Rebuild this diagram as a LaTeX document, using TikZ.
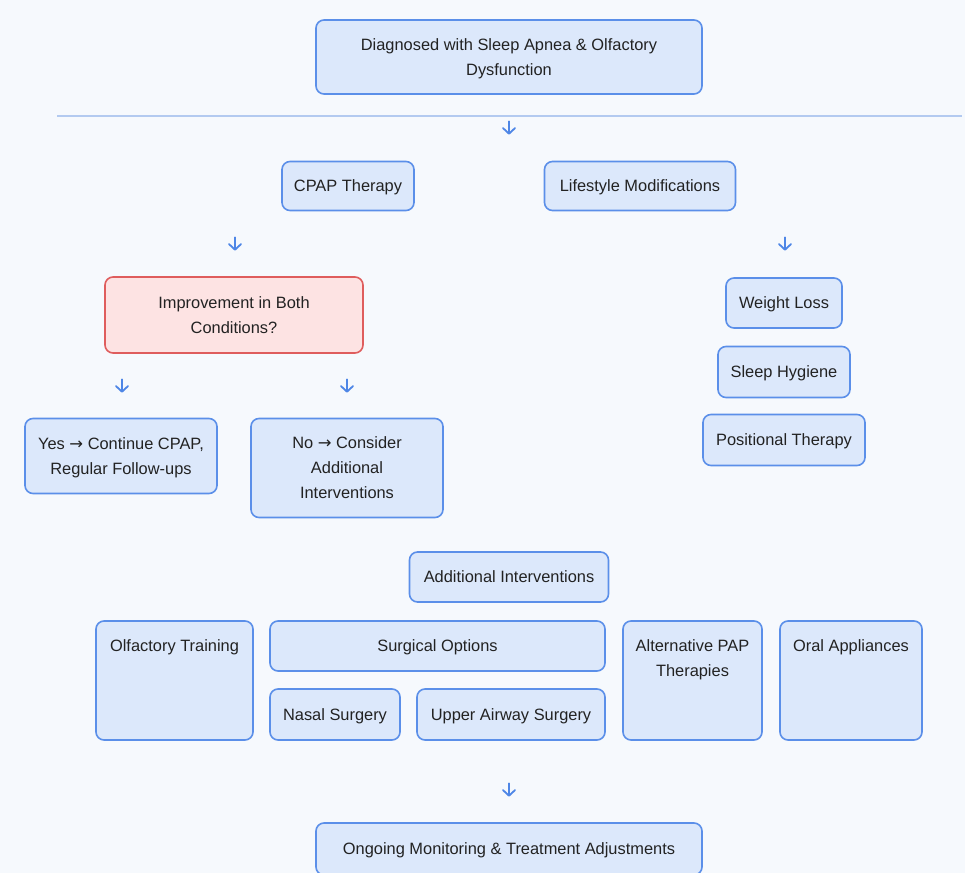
\documentclass[tikz,border=0pt]{standalone}
\usepackage{fontspec}
\setmainfont{Liberation Sans}
\newfontfamily\symfont{DejaVu Sans}
\usepackage{tikz}
\usetikzlibrary{arrows.meta}

\definecolor{bgcol}{HTML}{F6F9FD}
\definecolor{boxfill}{HTML}{DCE8FB}
\definecolor{boxline}{HTML}{5B8FE9}
\definecolor{redfill}{HTML}{FDE3E3}
\definecolor{redline}{HTML}{DF5D5D}
\definecolor{rulecol}{HTML}{B3CAF0}
\definecolor{arrcol}{HTML}{4E86E6}
\definecolor{txtcol}{HTML}{222222}

\newcommand{\rarr}{{\symfont\char"2192}}

\begin{document}
\begin{tikzpicture}[x=0.5pt, y=-0.5pt,
    box/.style={draw=boxline, fill=boxfill, line width=0.8pt, rounded corners=4pt,
      inner sep=0pt, text depth=0pt, align=center, text=txtcol, font=\fontsize{8.2}{12.5}\selectfont},
    redbox/.style={box, draw=redline, fill=redfill},
    boxtext/.style={inner sep=0pt, align=center, text=txtcol, font=\fontsize{8.2}{12.5}\selectfont},
    downarr/.style={arrcol, line width=0.9pt, line cap=round,
      -{Straight Barb[length=2.8pt, width=6pt, line cap=round, round]}}]
        \fill[bgcol] (0, 0) rectangle (965, 873);
        \useasboundingbox (0, 0) rectangle (965, 873);

        \node[box, minimum width=193pt, minimum height=37pt] (diag) at (509, 57)
          {Diagnosed with Sleep Apnea \& Olfactory\\Dysfunction};
        \draw[rulecol, line width=0.6pt] (57, 116) -- (962, 116);
        \coordinate (a1) at (509, 128);
        \draw[downarr] ([yshift=3.3pt]a1) -- ([yshift=-3.3pt]a1);

        \node[box, minimum width=66pt, minimum height=24.5pt] (cpap) at (348, 186) {CPAP Therapy};
        \node[box, minimum width=95.5pt, minimum height=24.5pt] (life) at (640, 186) {Lifestyle Modifications};
        \coordinate (a2) at (235, 244);
        \coordinate (a3) at (785, 244);
        \draw[downarr] ([yshift=3.3pt]a2) -- ([yshift=-3.3pt]a2);
        \draw[downarr] ([yshift=3.3pt]a3) -- ([yshift=-3.3pt]a3);

        \node[redbox, minimum width=129pt, minimum height=38pt] (improve) at (234, 315)
          {Improvement in Both\\Conditions?};
        \node[box, minimum width=58pt, minimum height=25pt] (weight) at (784, 303) {Weight Loss};
        \node[box, minimum width=66pt, minimum height=25.5pt] (hygiene) at (784, 372) {Sleep Hygiene};
        \node[box, minimum width=81pt, minimum height=25.5pt] (position) at (784, 440) {Positional Therapy};

        \coordinate (a4) at (122, 386);
        \coordinate (a5) at (347, 386);
        \draw[downarr] ([yshift=3.3pt]a4) -- ([yshift=-3.3pt]a4);
        \draw[downarr] ([yshift=3.3pt]a5) -- ([yshift=-3.3pt]a5);
        \node[box, minimum width=96pt, minimum height=37.5pt] (yes) at (121, 456)
          {Yes \rarr{} Continue CPAP,\\Regular Follow-ups};
        \node[box, minimum width=96pt, minimum height=49.5pt] (no) at (347, 468)
          {No \rarr{} Consider\\Additional\\Interventions};

        \node[box, minimum width=99.5pt, minimum height=25pt] (addint) at (509, 577) {Additional Interventions};

        \node[box, minimum width=78.5pt, minimum height=59.5pt] (olf) at (174.5, 680.5) {};
        \node[boxtext, anchor=north] (olftxt) at (174.5, 639) {Olfactory Training};
        \node[box, minimum width=167.5pt, minimum height=25pt] (surg) at (437.5, 646) {Surgical Options};
        \node[box, minimum width=65pt, minimum height=25.5pt] (nasal) at (335, 714.5) {Nasal Surgery};
        \node[box, minimum width=94pt, minimum height=25.5pt] (upper) at (511, 714.5) {Upper Airway Surgery};
        \node[box, minimum width=69.5pt, minimum height=59.5pt] (altpap) at (692.5, 680.5) {};
        \node[boxtext, anchor=north] (altpaptxt) at (692.5, 639) {Alternative PAP\\Therapies};
        \node[box, minimum width=71pt, minimum height=59.5pt] (oral) at (851, 680.5) {};
        \node[boxtext, anchor=north] (oraltxt) at (851, 639) {Oral Appliances};

        \coordinate (a6) at (509, 790);
        \draw[downarr] ([yshift=3.3pt]a6) -- ([yshift=-3.3pt]a6);
        \node[box, minimum width=193pt, minimum height=26pt] (ongoing) at (509, 849)
          {Ongoing Monitoring \& Treatment Adjustments};
      \end{tikzpicture}
\end{document}
